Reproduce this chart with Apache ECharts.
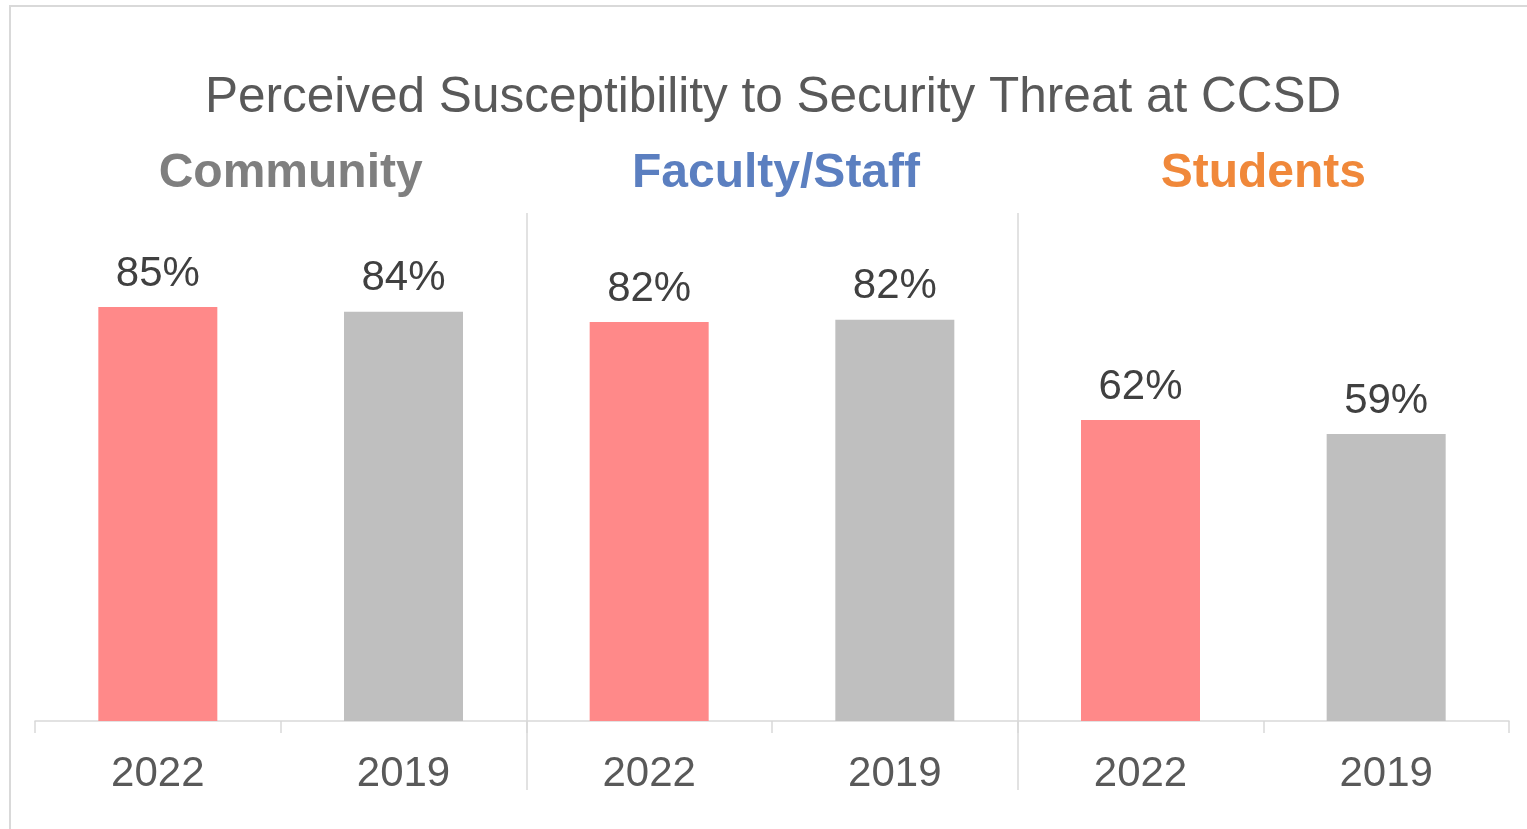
<!DOCTYPE html>
<html>
<head>
<meta charset="utf-8">
<script src="https://cdn.jsdelivr.net/npm/echarts@6/dist/echarts.min.js"></script>
<style>
  html, body { margin: 0; padding: 0; background: #ffffff; overflow: hidden; }
  #frame { position: absolute; left: 9px; top: 5px; width: 1600px; height: 900px; border: 2px solid #d9d9d9; box-sizing: border-box; }
  #chart { position: absolute; left: 0; top: 0; width: 1527px; height: 829px; }
</style>
</head>
<body>
<div id="frame"></div>
<div id="chart"></div>
<script>
const titleText = 'Perceived Susceptibility to Security Threat at CCSD';
const groups = ['Community', 'Faculty/Staff', 'Students'];
const groupColors = ['#7f7f7f', '#5b7fc0', '#f0883a'];
const years = ['2022', '2019'];
const values2022 = [85, 81.9, 61.8];
const values2019 = [84, 82.4, 58.9];
const yearColors = ['#ff8989', '#bfbfbf'];

const categories = [];
const barData = [];
groups.forEach(function (g, i) {
  [values2022, values2019].forEach(function (arr, j) {
    categories.push(years[j]);
    barData.push({ value: arr[i], itemStyle: { color: yearColors[j] } });
  });
});

const FONT = "'Liberation Sans', Arial, sans-serif";
const groupPads = [[0, 0, 0, 20], [0, 0, 0, 8], [0, 0, 0, 0]];
const sepLine = { color: '#d9d9d9', width: 1.5 };

const chart = echarts.init(document.getElementById('chart'), null, { renderer: 'canvas' });
chart.setOption({
  backgroundColor: 'transparent',
  animation: false,
  title: {
    text: titleText,
    left: 200,
    top: 68,
    textStyle: { fontFamily: FONT, fontSize: 49.5, fontWeight: 'normal', color: '#595959' }
  },
  grid: [
    { left: 35, right: 18, top: 213, bottom: 108, containLabel: false, outerBoundsMode: 'none' },
    { left: 35, right: 18, top: 721, bottom: 39, containLabel: false, outerBoundsMode: 'none' }
  ],
  xAxis: [
    {
      type: 'category',
      gridIndex: 0,
      data: categories,
      position: 'bottom',
      axisLine: { onZero: false, lineStyle: sepLine },
      axisTick: { show: true, length: 12, lineStyle: sepLine },
      axisLabel: { margin: 32, fontFamily: FONT, fontSize: 42, color: '#595959', interval: 0 },
      splitLine: { show: false }
    },
    {
      type: 'category',
      gridIndex: 0,
      data: groups.map(function (g, i) {
        return { value: g, textStyle: { color: groupColors[i], padding: groupPads[i] } };
      }),
      position: 'top',
      axisLine: { show: false },
      axisTick: { show: false },
      axisLabel: { margin: 15, fontFamily: FONT, fontSize: 48, fontWeight: 'bold', interval: 0 },
      splitLine: { show: true, showMinLine: false, showMaxLine: false, lineStyle: sepLine }
    },
    {
      type: 'category',
      gridIndex: 1,
      data: groups,
      position: 'bottom',
      axisLine: { show: false },
      axisTick: { show: false },
      axisLabel: { show: false },
      splitLine: { show: true, showMinLine: false, showMaxLine: false, lineStyle: sepLine }
    }
  ],
  yAxis: [
    { type: 'value', gridIndex: 0, min: 0, max: 104.3, show: false, splitLine: { show: false } },
    { type: 'value', gridIndex: 1, min: 0, max: 1, show: false, splitLine: { show: false } }
  ],
  series: [
    {
      type: 'bar',
      xAxisIndex: 0,
      yAxisIndex: 0,
      data: barData,
      barWidth: 119,
      label: {
        show: true,
        position: 'top',
        distance: 12,
        fontFamily: FONT,
        fontSize: 42,
        color: '#404040',
        formatter: function (p) { return Math.round(p.value) + '%'; }
      }
    }
  ]
});
</script>
</body>
</html>
